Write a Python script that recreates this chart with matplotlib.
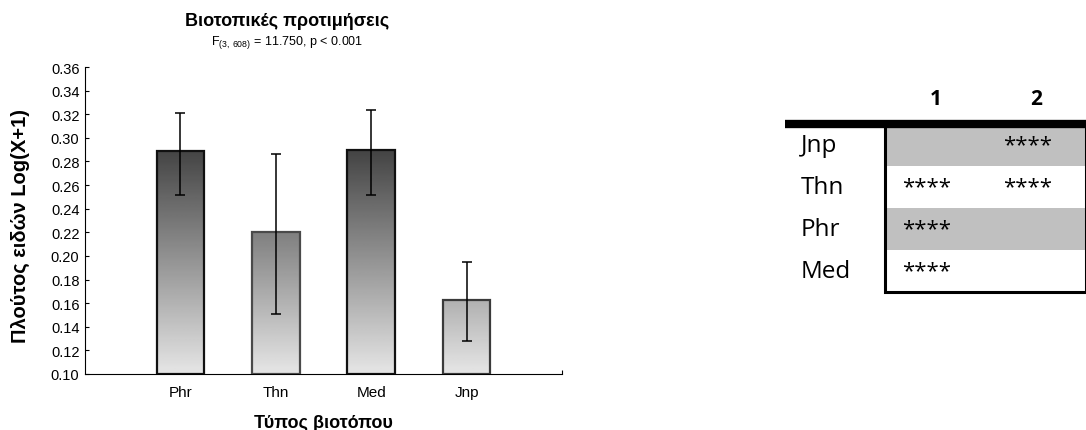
import matplotlib
matplotlib.use("Agg")
import matplotlib.pyplot as plt
from matplotlib.patches import Rectangle
import numpy as np

# habitat means with error bar limits
habitats = ["Phr", "Thn", "Med", "Jnp"]
means = [0.289, 0.220, 0.290, 0.163]
err_low = [0.252, 0.151, 0.252, 0.128]
err_high = [0.321, 0.286, 0.324, 0.195]
edge_colors = ["#111111", "#4a4a4a", "#111111", "#3a3a3a"]
y_ticks = [0.10, 0.12, 0.14, 0.16, 0.18, 0.20, 0.22, 0.24, 0.26, 0.28, 0.30, 0.32, 0.34, 0.36]

# homogeneous groups table
table_rows = ["Jnp", "Thn", "Phr", "Med"]
group_cols = ["1", "2"]
group1 = [False, True, True, True]
group2 = [True, True, False, False]

plt.rcParams["font.family"] = ["Liberation Sans", "DejaVu Sans"]
plt.rcParams["mathtext.default"] = "regular"

fig = plt.figure(figsize=(10.86, 4.31), dpi=100)
W, H = 1086, 431

ax = fig.add_axes([85 / W, 1 - 375 / H, (562 - 85) / W, (375 - 68) / H])
ax.set_xlim(-1, 4)
ax.set_ylim(0.10, 0.36)

# vertical grey gradient, darker towards the top of the value axis
grad = np.linspace(0.90, 0.03, 256).reshape(-1, 1)
x = np.arange(len(habitats))
bw = 0.5
for i in range(len(habitats)):
    rect = Rectangle((x[i] - bw / 2, 0.10), bw, means[i] - 0.10,
                     facecolor="none", edgecolor=edge_colors[i], linewidth=1.6, zorder=3)
    ax.add_patch(rect)
    im = ax.imshow(grad, cmap="gray", vmin=0, vmax=1, origin="lower", aspect="auto",
                   extent=(-1, 4, 0.10, 0.36), zorder=2)
    im.set_clip_path(rect)

yerr = [np.array(means) - np.array(err_low), np.array(err_high) - np.array(means)]
ax.errorbar(x, means, yerr=yerr, fmt="none", ecolor="black", elinewidth=1.1,
            capsize=3.5, capthick=1.1, zorder=4)

ax.spines["top"].set_visible(False)
ax.spines["right"].set_visible(False)
ax.set_xticks(list(x) + [4])
ax.set_xticklabels(habitats + [""])
ax.set_yticks(y_ticks)
ax.set_yticklabels([f"{v:.2f}" for v in y_ticks])
ax.tick_params(direction="in", length=3, width=0.8, labelsize=10.5, pad=4)
ax.tick_params(axis="x", labelsize=11, pad=8)
ax.set_ylabel("Πλούτος ειδών Log(X+1)", fontsize=14.5, fontweight="bold")
ax.yaxis.set_label_coords(-0.116, 0.485)
ax.set_xlabel("Τύπος βιοτόπου", fontsize=13, fontweight="bold", labelpad=11)

fig.text(287 / W, 1 - 22 / H, "Βιοτοπικές προτιμήσεις", ha="center", va="center",
         fontsize=13, fontweight="bold")
fig.text(287 / W, 1 - 43 / H, r"F$_{(3,\,608)}$ = 11.750, p < 0.001", ha="center",
         va="center", fontsize=9)

# table of homogeneous groups
tx = fig.add_axes([785 / W, 1 - 293 / H, (1086 - 785) / W, (293 - 83) / H])
tx.set_xlim(0, 3)
tx.set_ylim(5, 0)
tx.axis("off")

for j, name in enumerate(group_cols):
    tx.text(1.5 + j, 0.40, name, ha="center", va="center", fontsize=15,
            fontweight="bold", family=["Open Sans", "DejaVu Sans"])

for i, name in enumerate(table_rows):
    row = i + 1
    if i % 2 == 0:
        tx.add_patch(Rectangle((1, row), 2, 1, facecolor="#c0c0c0", edgecolor="none", zorder=1))
    tx.text(0.16, row + 0.5, name, ha="left", va="center", fontsize=17.5,
            family=["Open Sans", "DejaVu Sans"], zorder=3)
    for j, flags in enumerate([group1, group2]):
        if flags[i]:
            tx.text(1.17 + j, row + 0.50, "****", ha="left", va="center", fontsize=16,
                    family=["Open Sans", "DejaVu Sans"], zorder=3)

tx.add_patch(Rectangle((1, 1), 2, 4, facecolor="none", edgecolor="black",
                       linewidth=2.2, zorder=4, clip_on=False))
tx.plot([0, 3], [1, 1], color="black", linewidth=6, solid_capstyle="butt", zorder=5,
        clip_on=False)

fig.savefig("out.png", dpi=100)
